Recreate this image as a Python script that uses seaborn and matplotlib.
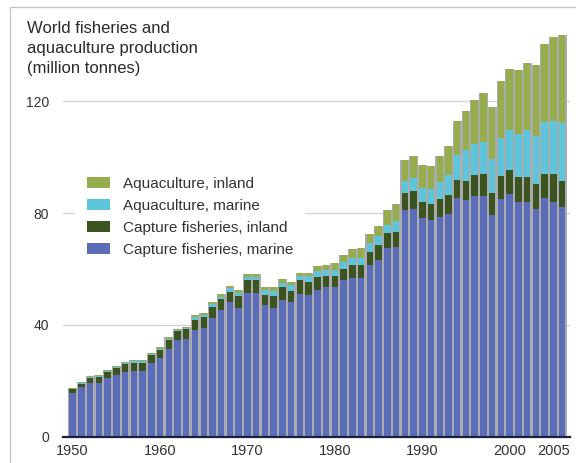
import numpy as np
import pandas as pd
import matplotlib.pyplot as plt
from matplotlib.lines import Line2D
from matplotlib.patches import Patch
import seaborn as sns

# values, million tonnes, 1950-2006
years = list(range(1950, 2007))
capture_marine = [15.8, 18.0, 19.2, 19.4, 21.0, 22.0, 23.2, 23.4, 23.4, 26.3,
                  28.1, 31.3, 34.6, 34.9, 38.2, 38.8, 42.4, 45.4, 48.3, 46.0,
                  51.5, 51.5, 47.1, 46.2, 48.9, 48.3, 51.1, 50.7, 52.6, 53.4,
                  53.5, 56.1, 56.7, 56.7, 61.4, 63.2, 67.5, 68.0, 81.1, 81.3,
                  78.3, 77.5, 78.7, 79.6, 85.2, 84.6, 86.1, 86.2, 79.3, 84.9,
                  86.8, 84.1, 84.1, 81.3, 85.2, 84.1, 82.0]
capture_inland = [1.3, 1.1, 1.9, 2.1, 2.3, 2.7, 2.9, 3.2, 3.2, 3.0,
                  3.1, 3.4, 3.2, 3.6, 3.6, 3.9, 3.9, 3.8, 3.6, 4.4,
                  4.6, 4.6, 3.6, 4.2, 4.5, 4.0, 5.0, 4.8, 4.6, 4.2,
                  4.0, 3.8, 4.7, 4.7, 4.8, 5.2, 5.3, 5.3, 5.9, 6.6,
                  5.8, 5.7, 6.2, 6.8, 6.6, 6.9, 7.5, 7.7, 8.0, 8.3,
                  8.6, 8.7, 8.7, 9.1, 8.9, 9.9, 9.5]
aqua_marine = [0.2, 0.2, 0.2, 0.2, 0.2, 0.3, 0.3, 0.4, 0.4, 0.3,
               0.3, 0.4, 0.4, 0.4, 0.9, 0.8, 1.1, 0.9, 1.2, 1.1,
               1.2, 1.2, 1.8, 1.9, 1.7, 2.0, 1.4, 2.0, 2.0, 1.9,
               2.1, 2.7, 2.4, 2.4, 3.0, 3.5, 3.0, 4.0, 4.5, 4.5,
               4.8, 5.3, 6.1, 7.1, 8.9, 11.0, 11.1, 11.3, 11.9, 13.5,
               14.3, 15.5, 16.7, 17.1, 18.4, 19.0, 20.5]
aqua_inland = [0.3, 0.3, 0.4, 0.4, 0.4, 0.4, 0.5, 0.5, 0.5, 0.5,
               0.5, 0.5, 0.5, 0.5, 0.9, 0.9, 0.9, 1.0, 0.8, 1.0,
               0.8, 0.8, 0.9, 1.1, 1.2, 1.1, 1.2, 1.2, 1.7, 1.8,
               2.4, 2.4, 3.2, 3.6, 3.4, 3.3, 5.4, 6.0, 7.4, 8.0,
               8.3, 8.3, 9.4, 10.6, 12.3, 14.0, 15.7, 17.7, 18.6, 20.6,
               21.7, 22.9, 24.0, 25.5, 28.0, 30.0, 31.7]
tick_years = [1950, 1960, 1970, 1980, 1990, 2000, 2005]
y_ticks = [0, 40, 80, 120]
labels = ['Aquaculture, inland', 'Aquaculture, marine',
          'Capture fisheries, inland', 'Capture fisheries, marine']
colors = ['#95ad4a', '#5ec6dc', '#3b5420', '#5b6db8']

df = pd.DataFrame({'year': years, 'cm': capture_marine, 'ci': capture_inland,
                   'am': aqua_marine, 'ai': aqua_inland})
df['l1'] = df['cm']
df['l2'] = df['l1'] + df['ci']
df['l3'] = df['l2'] + df['am']
df['l4'] = df['l3'] + df['ai']

sns.set_style('white')
plt.rcParams['font.family'] = ['Liberation Sans', 'DejaVu Sans']

fig = plt.figure(figsize=(5.76, 4.63), dpi=100)
ax = fig.add_axes([63 / 576, 26 / 463, 507 / 576, 146 * 2.8 / 463])

for y in y_ticks[1:]:
    ax.axhline(y, color='#d4d4dc', lw=1.0, zorder=0)

# gray strips between the bars
sns.barplot(data=df, x='year', y='l4', color='#ababad', width=1.0, saturation=1,
            linewidth=0, errorbar=None, ax=ax, zorder=2)
for col, c in zip(['l4', 'l3', 'l2', 'l1'], colors):
    sns.barplot(data=df, x='year', y=col, color=c, width=0.74, saturation=1,
                linewidth=0, errorbar=None, ax=ax, zorder=3)

ax.set_xlim(-1.1, 56.9)
ax.set_ylim(0, 146)
ax.set_xticks([y - 1950 for y in tick_years])
ax.set_xticklabels([str(y) for y in tick_years])
ax.set_yticks(y_ticks)
ax.tick_params(axis='x', length=0, pad=5, labelsize=10.5, labelcolor='#333333')
ax.tick_params(axis='y', length=0, pad=10, labelsize=10, labelcolor='#333333')
ax.set_xlabel('')
ax.set_ylabel('')
for s in ['top', 'right', 'left']:
    ax.spines[s].set_visible(False)
ax.spines['bottom'].set_color('#1c2340')
ax.spines['bottom'].set_linewidth(1.6)
ax.spines['bottom'].set_zorder(5)

handles = [Patch(facecolor=c, edgecolor='none') for c in colors]
leg = ax.legend(handles, labels, loc='upper left', bbox_to_anchor=(0.024, 0.664),
                borderaxespad=0, borderpad=0.75, frameon=True, fancybox=False,
                facecolor='white', edgecolor='white', framealpha=1,
                fontsize=11, handlelength=1.5, handleheight=0.72,
                handletextpad=0.85, labelspacing=0.52)
leg.set_zorder(1)
for t in leg.get_texts():
    t.set_color('#333333')

fig.text(27 / 576, 1 - 21 / 463,
         'World fisheries and\naquaculture production\n(million tonnes)',
         ha='left', va='top', fontsize=12, linespacing=1.42, color='#2a2a2a')

# thin frame around the figure
fig.add_artist(Line2D([10 / 576, 10 / 576], [0, 1 - 7 / 463],
                      transform=fig.transFigure, color='#c8c8c8', lw=1))
fig.add_artist(Line2D([10 / 576, 1], [1 - 7 / 463, 1 - 7 / 463],
                      transform=fig.transFigure, color='#c8c8c8', lw=1))

fig.savefig('out.png', dpi=100)
